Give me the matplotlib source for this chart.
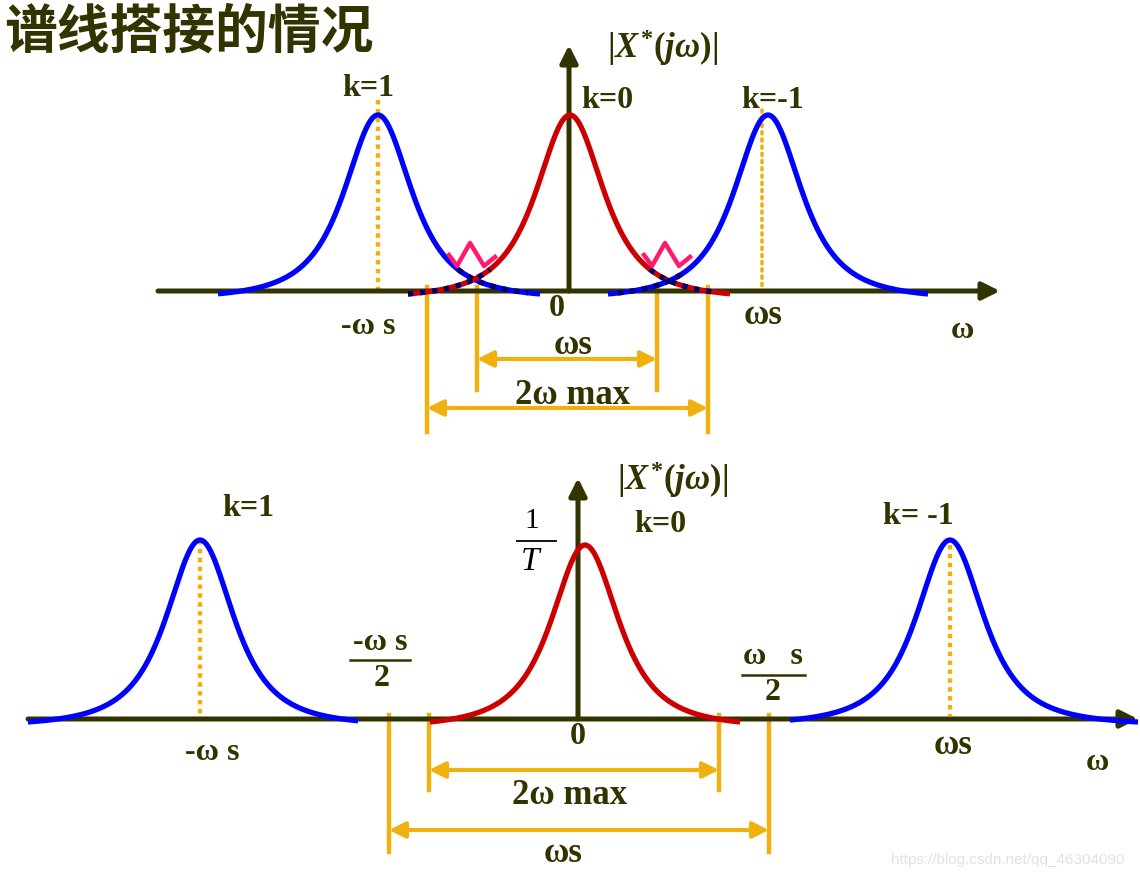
import numpy as np
import matplotlib
matplotlib.use("Agg")
import matplotlib.pyplot as plt

W, H = 1140, 880
INK = "#333300"
BLUE = "#0000FF"
RED = "#CC0000"
GOLD = "#F0B010"
PINK = "#FF1A70"
NAVY = "#000066"
SERIF = "Liberation Serif"

plt.rcParams["mathtext.fontset"] = "custom"
plt.rcParams["mathtext.rm"] = "Liberation Serif:bold"
plt.rcParams["mathtext.it"] = "Liberation Serif:italic:bold"

# ── top panel (overlapping spectra) ──────────────────────────────────────────
TOP_AXIS_Y = 291
TOP_ORIGIN_X = 569
TOP_CENTERS = [378, 570, 768]
TOP_HEIGHTS = [176, 176, 176]
TOP_SPANS = [(218, 540), (408, 730), (608, 928)]
TOP_COLORS = [BLUE, RED, BLUE]
# pieces of the tails that are re-drawn dotted: (spectrum index, x from, x to)
TOP_DOTTED = [(1, 408, 490), (0, 458, 528), (2, 618, 682), (1, 650, 712)]
TOP_CROSSINGS = [474, 669]
W_DX = [-25, -17, -4, 10, 21]
W_DY = [21, 10, 33, 10, 19]
TOP_GUIDES = [378, 762]          # dotted verticals under side peaks
TOP_DIMS = [(477, 657, 390, 359, "ωs"), (427, 708, 432, 408, "2ω max")]

# ── bottom panel (separated spectra) ─────────────────────────────────────────
BOT_AXIS_Y = 719
BOT_ORIGIN_X = 578
BOT_CENTERS = [200, 585, 950]
BOT_HEIGHTS = [179, 174, 179]
BOT_SPANS = [(28, 358), (430, 740), (790, 1138)]
BOT_COLORS = [BLUE, RED, BLUE]
BOT_GUIDES = [200, 950]
BOT_DIMS = [(429, 719, 790, 770, "2ω max"), (389, 769, 852, 830, "ωs")]


def bell(x, c, h, x0, x1, a=52.0):
    f = (1 + ((x - c) / a) ** 2) ** -1.5
    fe = (1 + (max(c - x0, x1 - c) / a) ** 2) ** -1.5
    return -3 + (h + 3) * (f - fe) / (1 - fe)


def label(ax, x, y, s, size=23, **kw):
    kw.setdefault("fontweight", "bold")
    ax.text(x, y, s, fontsize=size, color=INK, family=SERIF,
            ha="center", va="center", **kw)


def arrow(ax, x0, y0, x1, y1, color, lw, scale, style="-|>"):
    ax.annotate("", xy=(x1, y1), xytext=(x0, y0),
                arrowprops=dict(arrowstyle=style, color=color, lw=lw,
                                mutation_scale=scale, shrinkA=0, shrinkB=0))


def draw_axes(ax, y_axis, x_left, x_right, x_orig, y_top):
    arrow(ax, x_left, y_axis, x_right, y_axis, INK, 3.6, 26)
    arrow(ax, x_orig, y_axis, x_orig, y_top, INK, 3.6, 26)


def draw_spectra(ax, y_axis, centers, heights, spans, colors):
    for c, h, (x0, x1), col in zip(centers, heights, spans, colors):
        x = np.linspace(x0, x1, 400)
        ax.plot(x, y_axis - bell(x, c, h, x0, x1), color=col, lw=3.8,
                solid_capstyle="butt", zorder=3)


def draw_dims(ax, y_axis, dims):
    for xa, xb, y_end, y_arr, txt in dims:
        for xv in (xa, xb):
            ax.plot([xv, xv], [y_axis - 4, y_end], color=GOLD, lw=3.2, zorder=2)
        arrow(ax, xa, y_arr, xb, y_arr, GOLD, 3.0, 24, style="<|-|>")


fig = plt.figure(figsize=(W / 100, H / 100), dpi=100)
ax = fig.add_axes([0, 0, 1, 1])
ax.set_xlim(0, W)
ax.set_ylim(H, 0)
ax.axis("off")

# title
ax.text(4, 32, "谱线搭接的情况", fontsize=38, fontweight="bold", color=INK,
        family=["Noto Sans CJK SC", "DejaVu Sans"], ha="left", va="center")

# ── top panel ────────────────────────────────────────────────────────────────
draw_axes(ax, TOP_AXIS_Y, 158, 1000, TOP_ORIGIN_X, 45)
draw_dims(ax, TOP_AXIS_Y, TOP_DIMS)
draw_spectra(ax, TOP_AXIS_Y, TOP_CENTERS, TOP_HEIGHTS, TOP_SPANS, TOP_COLORS)

ax.plot([TOP_GUIDES[0]] * 2, [100, TOP_AXIS_Y], color=GOLD, lw=3.2,
        ls=(0, (1, 1)), zorder=2)
ax.plot([TOP_GUIDES[1]] * 2, [110, TOP_AXIS_Y], color=GOLD, lw=2.6,
        ls=(0, (0.6, 1.4)), dash_capstyle="round", zorder=2)

for i, xa, xb in TOP_DOTTED:
    x0, x1 = TOP_SPANS[i]
    x = np.linspace(xa, xb, 80)
    ax.plot(x, TOP_AXIS_Y - bell(x, TOP_CENTERS[i], TOP_HEIGHTS[i], x0, x1),
            color=NAVY, lw=3.8, ls=(0, (1, 1.3)), zorder=4)

for xc in TOP_CROSSINGS:
    ax.plot([xc + d for d in W_DX], [TOP_AXIS_Y - 15 - d for d in W_DY],
            color=PINK, lw=3.2, zorder=5)

ax.text(663, 48, r"$|X^{*}(j\omega)|$", fontsize=25, color=INK,
        ha="center", va="center")
label(ax, 368, 88, "k=1")
label(ax, 607, 100, "k=0")
label(ax, 773, 100, "k=-1")
label(ax, 368, 327, "-ω s")
label(ax, 557, 308, "0")
label(ax, 763, 316, "ωs", size=25)
label(ax, 962, 330, "ω")
label(ax, 573, 345, "ωs", size=25)
label(ax, 573, 395, "2ω max", size=25)

# ── bottom panel ─────────────────────────────────────────────────────────────
draw_axes(ax, BOT_AXIS_Y, 28, 1138, BOT_ORIGIN_X, 478)
draw_dims(ax, BOT_AXIS_Y, BOT_DIMS)
draw_spectra(ax, BOT_AXIS_Y, BOT_CENTERS, BOT_HEIGHTS, BOT_SPANS, BOT_COLORS)
for xg, yt in zip(BOT_GUIDES, [540, 545]):
    ax.plot([xg, xg], [yt, BOT_AXIS_Y - 3], color=GOLD, lw=3.2,
            ls=(0, (1, 1)), zorder=2)

ax.text(673, 480, r"$|X^{*}(j\omega)|$", fontsize=25, color=INK,
        ha="center", va="center")
label(ax, 248, 508, "k=1")
label(ax, 660, 525, "k=0")
label(ax, 918, 517, "k= -1")
label(ax, 212, 752, "-ω s")
label(ax, 578, 737, "0")
label(ax, 953, 745, "ωs", size=25)
label(ax, 1097, 763, "ω")
label(ax, 570, 795, "2ω max", size=25)
label(ax, 563, 853, "ωs", size=25)

# fractions
label(ax, 380, 643, "-ω s")
ax.plot([350, 410], [660, 660], color=INK, lw=1.8)
label(ax, 382, 678, "2")
label(ax, 773, 656, "ω   s")
ax.plot([742, 805], [675, 675], color=INK, lw=1.8)
label(ax, 773, 692, "2")
ax.text(532, 521, "1", fontsize=21, color="black", family=SERIF,
        ha="center", va="center")
ax.plot([517, 556], [541, 541], color="black", lw=1.3)
ax.text(530, 562, "T", fontsize=24, color="black", family=SERIF,
        style="italic", ha="center", va="center")

ax.text(1008, 860, "https://blog.csdn.net/qq_46304090", fontsize=11,
        color="#E2E2E2", family="Liberation Sans", ha="center", va="center")

fig.savefig("out.png", dpi=100, facecolor="white")
